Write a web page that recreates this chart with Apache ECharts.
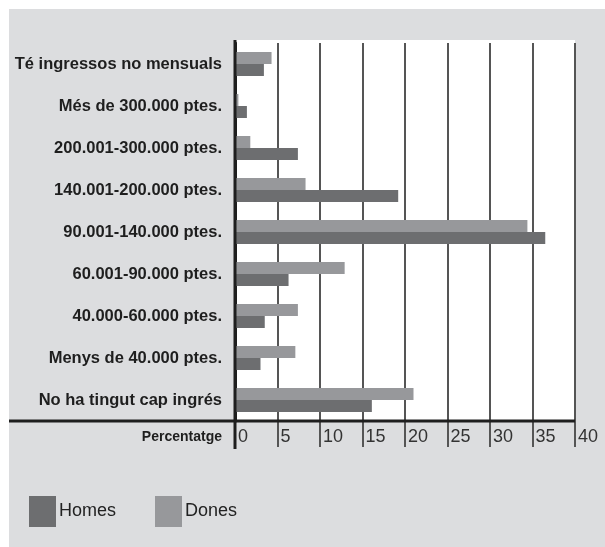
<!DOCTYPE html>
<html>
<head>
<meta charset="utf-8">
<script src="https://cdn.jsdelivr.net/npm/echarts@6/dist/echarts.min.js"></script>
<style>
  html, body { margin: 0; padding: 0; background: #fff; }
  #chart { width: 605px; height: 547px; }
</style>
</head>
<body>
<div id="chart"></div>
<script>
// categories listed bottom -> top (category y axis grows upward)
const categories = [
  "No ha tingut cap ingrés",
  "Menys de 40.000 ptes.",
  "40.000-60.000 ptes.",
  "60.001-90.000 ptes.",
  "90.001-140.000 ptes.",
  "140.001-200.000 ptes.",
  "200.001-300.000 ptes.",
  "Més de 300.000 ptes.",
  "Té ingressos no mensuals"
];
const homes = [16.1, 3.0, 3.5, 6.3, 36.5, 19.2, 7.4, 1.4, 3.4];
const dones = [21.0, 7.1, 7.4, 12.9, 34.4, 8.3, 1.8, 0.4, 4.3];
const xTicks = [0, 5, 10, 15, 20, 25, 30, 35, 40];

const labelFont = "'Liberation Sans', Arial, sans-serif";

let myChart = echarts.init(document.getElementById("chart"));
myChart.setOption({
  animation: false,
  backgroundColor: "#ffffff",
  graphic: [
    // grey panel behind everything
    { type: "rect", z: -10, silent: true,
      shape: { x: 9, y: 9, width: 596, height: 538 },
      style: { fill: "#dcdddf" } },
    // white plot area
    { type: "rect", z: -5, silent: true,
      shape: { x: 235, y: 40, width: 340, height: 381 },
      style: { fill: "#ffffff" } },
    // long horizontal base line
    { type: "line", z: 50, silent: true,
      shape: { x1: 9, y1: 421, x2: 575, y2: 421 },
      style: { stroke: "#1e1e1e", lineWidth: 3 } },
    // vertical axis: top bit + extension below base line
    { type: "line", z: 50, silent: true,
      shape: { x1: 235, y1: 40, x2: 235, y2: 449 },
      style: { stroke: "#1e1e1e", lineWidth: 3 } },
    { type: "text", z: 50, silent: true,
      style: { x: 222, y: 437, text: "Percentatge", align: "right", verticalAlign: "middle",
        font: "bold 14px 'Liberation Sans', Arial, sans-serif", fill: "#1e1e1e" } }
  ],
  legend: {
    data: ["Homes", "Dones"],
    left: 29,
    top: 496,
    padding: 0,
    itemWidth: 27,
    itemHeight: 31,
    itemGap: 39,
    icon: "rect",
    textStyle: { fontSize: 18, color: "#222", fontFamily: labelFont, padding: [0, 0, 0, -2] }
  },
  grid: { left: 235, right: 30, top: 43, bottom: 126 },
  xAxis: {
    type: "value",
    min: 0,
    max: 40,
    interval: 5,
    axisLine: { show: false },
    axisTick: { show: true, length: 26, lineStyle: { color: "#555", width: 2 } },
    axisLabel: {
      fontSize: 18, color: "#333", fontFamily: labelFont,
      margin: 7, align: "left", padding: [0, 0, 0, 3],
      formatter: (v) => (xTicks.indexOf(v) >= 0 ? String(v) : "")
    },
    splitLine: { show: true, lineStyle: { color: "#555", width: 2 } }
  },
  yAxis: {
    type: "category",
    data: categories,
    axisLine: { show: true, lineStyle: { color: "#1e1e1e", width: 3 } },
    axisTick: { show: false },
    axisLabel: {
      fontSize: 16.5, fontWeight: "bold", color: "#1e1e1e",
      fontFamily: labelFont, margin: 13, padding: [3, 0, 0, 0]
    }
  },
  // Dones drawn first so it sits above Homes inside each band
  series: [
    {
      name: "Dones",
      type: "bar",
      barWidth: 12,
      barGap: "0%",
      itemStyle: { color: "#97989b" },
      data: dones
    },
    {
      name: "Homes",
      type: "bar",
      barWidth: 12,
      barGap: "0%",
      itemStyle: { color: "#6d6e70" },
      data: homes
    }
  ]
});
</script>
</body>
</html>
